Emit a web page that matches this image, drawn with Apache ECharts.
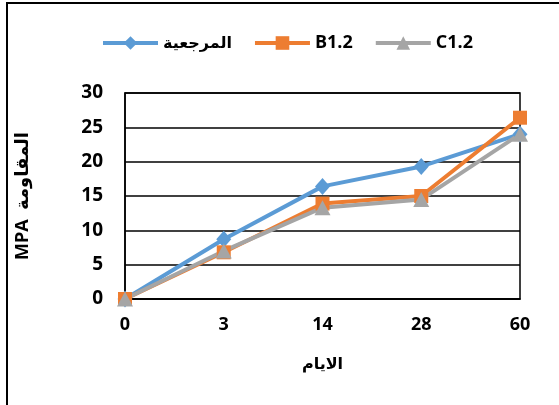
<!DOCTYPE html>
<html>
<head>
<meta charset="utf-8">
<script src="https://cdn.jsdelivr.net/npm/echarts@6/dist/echarts.min.js"></script>
<style>
  html, body { margin: 0; padding: 0; background: #fff; }
  #chart { width: 559px; height: 405px; }
</style>
</head>
<body>
<div id="chart"></div>
<script>
// Curing age in days
const days = ['0', '3', '14', '28', '60'];
// Compressive strength (MPa) per mix
const reference = [0, 8.7, 16.4, 19.3, 24.0];
const b12 = [0, 6.8, 13.9, 15.0, 26.4];
const c12 = [0, 7.0, 13.3, 14.5, 24.0];
const seriesNames = ['المرجعية', 'B1.2', 'C1.2'];
const yTicks = { min: 0, max: 30, interval: 5 };

const FONT = "'Open Sans', 'DejaVu Sans', sans-serif";
const chart = echarts.init(document.getElementById('chart'), null, { renderer: 'canvas' });

chart.setOption({
  backgroundColor: '#fff',
  animation: false,
  graphic: [{
    type: 'rect',
    shape: { x: 7, y: 3, width: 620, height: 460 },
    style: { fill: 'none', stroke: '#000', lineWidth: 2 },
    silent: true
  }],
  legend: {
    top: 29,
    left: 96,
    itemWidth: 55,
    itemHeight: 17,
    itemGap: 21,
    lineStyle: { width: 4 },
    textStyle: { fontFamily: FONT, fontWeight: 'bold', fontSize: 18, color: '#000' },
    data: [
      { name: seriesNames[0], textStyle: { fontSize: 16 } },
      seriesNames[1],
      seriesNames[2]
    ]
  },
  grid: {
    left: 125, right: 39, top: 93, bottom: 106,
    show: true, borderColor: '#000', borderWidth: 1.5
  },
  xAxis: {
    type: 'category',
    data: days,
    boundaryGap: false,
    axisLine: { lineStyle: { color: '#000', width: 1.5 } },
    axisTick: { show: false },
    axisLabel: { color: '#000', fontFamily: FONT, fontWeight: 'bold', fontSize: 18, margin: 17 },
    name: 'الايام',
    nameLocation: 'middle',
    nameGap: 57,
    nameTextStyle: { color: '#000', fontFamily: FONT, fontWeight: 'bold', fontSize: 16 }
  },
  yAxis: {
    type: 'value',
    min: yTicks.min,
    max: yTicks.max,
    interval: yTicks.interval,
    axisLine: { show: true, lineStyle: { color: '#000', width: 1.5 } },
    axisTick: { show: false },
    splitLine: { lineStyle: { color: '#000', width: 1.5 } },
    axisLabel: { color: '#000', fontFamily: FONT, fontWeight: 'bold', fontSize: 19, margin: 22 },
    name: 'MPA  المقاومة',
    nameLocation: 'middle',
    nameGap: 93,
    nameTextStyle: { color: '#000', fontFamily: FONT, fontWeight: 'bold', fontSize: 18 }
  },
  series: [
    {
      name: seriesNames[0], type: 'line', data: reference,
      symbol: 'diamond', symbolSize: [15, 17],
      lineStyle: { color: '#5B9BD5', width: 4 },
      itemStyle: { color: '#5B9BD5' }
    },
    {
      name: seriesNames[1], type: 'line', data: b12,
      symbol: 'rect', symbolSize: 14,
      lineStyle: { color: '#ED7D31', width: 4 },
      itemStyle: { color: '#ED7D31' }
    },
    {
      name: seriesNames[2], type: 'line', data: c12,
      symbol: 'triangle', symbolSize: [16, 15],
      lineStyle: { color: '#A5A5A5', width: 4 },
      itemStyle: { color: '#A5A5A5' }
    }
  ]
});
</script>
</body>
</html>
